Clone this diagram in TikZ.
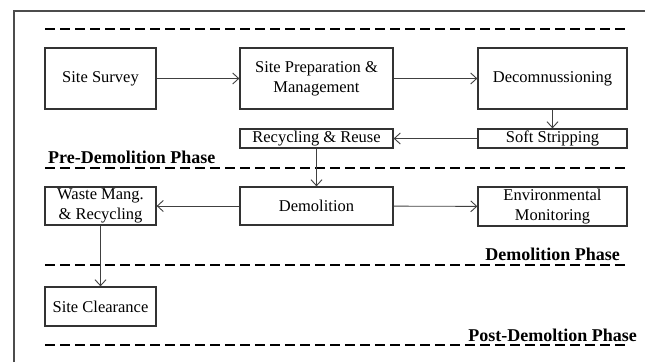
\documentclass[tikz,border=0pt]{standalone}
\usepackage{fontspec}
\setmainfont{Liberation Serif}
\usepackage{tikz}
\usetikzlibrary{arrows.meta,positioning}

\begin{document}
\begin{tikzpicture}[x=1pt,y=-1pt,
		box/.style={draw=black!80, line width=1.3pt, inner sep=0pt, align=center,
			font=\fontsize{16.5}{20}\selectfont},
		link/.style={draw=black!75, line width=0.9pt, -{Straight Barb[length=6pt,width=11pt]}},
		phaseline/.style={line width=2.4pt, dash pattern=on 10pt off 5pt},
		phase/.style={inner sep=0pt, font=\fontsize{18}{20}\selectfont\bfseries}]
	\useasboundingbox (0,0) rectangle (645,362);
	
	% Frame (cut off on the right and bottom)
	\draw[black!70, line width=1.3pt] (14,362) -- (14,11) -- (645,11);
	
	% Phase separators
	\foreach \y in {29,168,265,345} {
		\draw[phaseline] (45,\y) -- (626,\y);
	}
	
	% Phase names
	\node[phase, anchor=base west] (prelbl) at (48,163) {Pre-Demolition Phase};
	\node[phase, anchor=base east] (demlbl) at (620,260) {Demolition Phase};
	\node[phase, anchor=base east] (postlbl) at (637,341) {Post-Demoltion Phase};
	
	% Boxes
	\node[box, minimum width=111, minimum height=61] (survey) at (100.5,78.5) {Site Survey};
	\node[box, minimum width=153, minimum height=61] (prep) at (316.5,78.5) {Site Preparation \&\\Management};
	\node[box, minimum width=149, minimum height=61] (decom) at (552.5,78.5) {Decomnussioning};
	\node[box, minimum width=153, minimum height=19] (reuse) at (316.5,138.5) {Recycling \& Reuse};
	\node[box, minimum width=149, minimum height=19] (strip) at (552.5,138.5) {Soft Stripping};
	\node[box, minimum width=111, minimum height=38] (waste) at (100.5,206) {Waste Mang.\\\& Recycling};
	\node[box, minimum width=153, minimum height=38] (demol) at (316.5,206) {Demolition};
	\node[box, minimum width=149, minimum height=39] (envmon) at (552.5,206.5) {Environmental\\Monitoring};
	\node[box, minimum width=111, minimum height=39] (clear) at (100.5,306.5) {Site Clearance};
	
	% Flow
	\draw[link] (survey) -- (prep);
	\draw[link] (prep) -- (decom);
	\draw[link] (decom) -- (strip);
	\draw[link] (strip) -- (reuse);
	\draw[link] (reuse) -- (demol);
	\draw[link] (demol) -- (waste);
	\draw[link] (demol) -- (envmon);
	\draw[link] (waste) -- (clear);
\end{tikzpicture}
\end{document}
